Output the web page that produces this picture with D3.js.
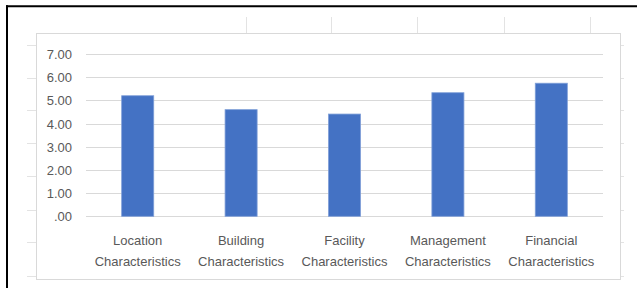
<!DOCTYPE html>
<html><head><meta charset="utf-8">
<script src="https://cdn.jsdelivr.net/npm/d3@7/dist/d3.min.js"></script>
<style>
html,body{margin:0;padding:0;background:#fff;}
svg{display:block;}
text{font-family:"Liberation Sans",Arial,sans-serif;fill:#595959;}
</style></head>
<body><svg id="chart" width="637" height="288"></svg>
<script>
const categories = [["Location","Characteristics"],["Building","Characteristics"],["Facility","Characteristics"],["Management","Characteristics"],["Financial","Characteristics"]];
const values = [5.20, 4.60, 4.41, 5.33, 5.74];
const yTicks = [0,1,2,3,4,5,6,7];
const yTickLabels = [".00","1.00","2.00","3.00","4.00","5.00","6.00","7.00"];

const svg = d3.select("#chart");
const W = 637, H = 288;

// spreadsheet cell grid remnants
const cellColor = "#e3e3e3";
const stubYs = [45,78,110,143,176,210,242,276];
svg.append("g").selectAll("line.ls").data(stubYs).join("line")
  .attr("x1",27).attr("x2",36).attr("y1",d=>d+0.5).attr("y2",d=>d+0.5)
  .attr("stroke",cellColor).attr("stroke-width",1);
svg.append("g").selectAll("line.rs").data(stubYs).join("line")
  .attr("x1",621).attr("x2",624).attr("y1",d=>d+0.5).attr("y2",d=>d+0.5)
  .attr("stroke",cellColor).attr("stroke-width",1);
const topXs = [246,331,417,504,590];
svg.append("g").selectAll("line").data(topXs).join("line")
  .attr("x1",d=>d+0.5).attr("x2",d=>d+0.5).attr("y1",17).attr("y2",33)
  .attr("stroke",cellColor).attr("stroke-width",1);

// chart area border
svg.append("rect").attr("x",36.5).attr("y",33.5).attr("width",584).attr("height",246)
  .attr("fill","#fff").attr("stroke","#d9d9d9").attr("stroke-width",1);

// black frame (top, left)
svg.append("line").attr("x1",6).attr("x2",W).attr("y1",6.2).attr("y2",6.2).attr("stroke","#000").attr("stroke-width",2);
svg.append("line").attr("x1",7).attr("x2",7).attr("y1",5.2).attr("y2",H).attr("stroke","#000").attr("stroke-width",2);

const x = d3.scaleBand().domain(d3.range(categories.length)).range([86,603]).paddingInner(0.69).paddingOuter(0.345);
const y = d3.scaleLinear().domain([0,7]).range([216.3,54]);

// gridlines
svg.append("g").selectAll("line").data(yTicks).join("line")
  .attr("x1",86).attr("x2",603)
  .attr("y1",d=>Math.round(y(d))+0.5).attr("y2",d=>Math.round(y(d))+0.5)
  .attr("stroke","#d9d9d9").attr("stroke-width",1);

// y axis labels
const yAxis = d3.axisLeft(y).tickValues(yTicks).tickFormat((d,i)=>yTickLabels[i]).tickSize(0).tickPadding(0);
const ya = svg.append("g").attr("transform","translate(72,0)").call(yAxis);
ya.select(".domain").remove();
ya.selectAll("text").attr("font-size",13).attr("fill","#595959").attr("font-family","Liberation Sans, Arial, sans-serif").attr("dy","0.35em");

// bars
svg.append("g").selectAll("rect").data(values).join("rect")
  .attr("x",(d,i)=>x(i)).attr("width",x.bandwidth())
  .attr("y",d=>y(d)).attr("height",d=>y(0)-y(d))
  .attr("fill","#4472C4").attr("stroke","#7f9fd8").attr("stroke-width",0.8);

// x labels
const xl = svg.append("g").selectAll("text").data(categories).join("text")
  .attr("x",(d,i)=>x(i)+x.bandwidth()/2).attr("text-anchor","middle")
  .attr("font-size",13);
xl.selectAll("tspan").data(d=>d).join("tspan")
  .attr("x",function(){return d3.select(this.parentNode).attr("x");})
  .attr("y",(d,j)=>j===0?244.5:265.5)
  .text(d=>d);
</script></body></html>
